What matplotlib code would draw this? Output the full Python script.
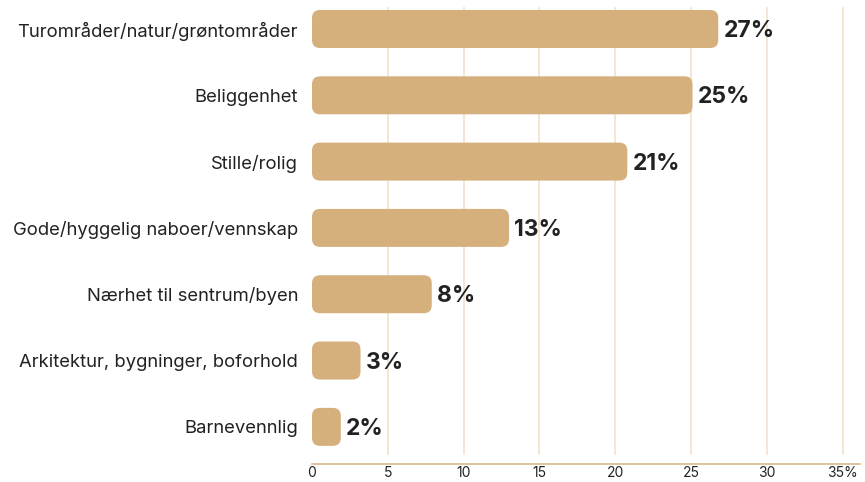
import matplotlib
matplotlib.use("Agg")
import matplotlib.pyplot as plt
from matplotlib.patches import FancyBboxPatch

categories = [
    "Turområder/natur/grøntområder",
    "Beliggenhet",
    "Stille/rolig",
    "Gode/hyggelig naboer/vennskap",
    "Nærhet til sentrum/byen",
    "Arkitektur, bygninger, boforhold",
    "Barnevennlig",
]
values = [26.8, 25.1, 20.8, 13.0, 7.9, 3.2, 1.9]
value_labels = ["27%", "25%", "21%", "13%", "8%", "3%", "2%"]
xticks = [0, 5, 10, 15, 20, 25, 30, 35]
xtick_labels = ["0", "5", "10", "15", "20", "25", "30", "35%"]

BAR = "#D5B07D"
GRID = "#F1E2CB"
AXIS = "#D8B98E"
TEXT = "#222222"

plt.rcParams['font.family'] = ['Inter', 'DejaVu Sans']

fig = plt.figure(figsize=(8.65, 4.82), dpi=100)
bottom_px = 18
ax = fig.add_axes([312/865, bottom_px/482, (860-312)/865, (482-bottom_px)/482])

n = len(categories)
ys = list(range(n))
xmax = (860 - 312) / 15.16
ax.set_xlim(0, xmax)
ax.set_ylim(6.56, -0.437)

bars = ax.barh(ys, values, height=0.573, color="none", edgecolor="none")

# gridlines
for t in xticks[1:]:
    ax.axvline(t, ymin=0.022, ymax=0.983, color=GRID, lw=1.2, zorder=0)

# rounded bars
fig.canvas.draw()
px_x = ax.transData.transform((1, 0))[0] - ax.transData.transform((0, 0))[0]
px_y = abs(ax.transData.transform((0, 1))[1] - ax.transData.transform((0, 0))[1])
r_px = 8
for b in bars:
    x0, y0, w, h = b.get_x(), b.get_y(), b.get_width(), b.get_height()
    r = min(r_px / px_x, w / 2 * 0.999)
    p = FancyBboxPatch((x0, y0), w, h,
                       boxstyle=f"round,pad=0,rounding_size={r}",
                       mutation_aspect=px_x / px_y,
                       facecolor=BAR, edgecolor="none", zorder=2)
    ax.add_patch(p)

for y, v, lab in zip(ys, values, value_labels):
    ax.text(v + 5 / px_x, y + 0.03, lab, va="center", ha="left",
            fontsize=16.5, fontweight="bold", color=TEXT, zorder=3)

ax.set_yticks(ys)
ax.set_yticklabels(categories, fontsize=13.3, color=TEXT)
ax.tick_params(axis="y", length=0, pad=10)
ax.set_xticks(xticks)
ax.set_xticklabels(xtick_labels, fontsize=10, color=TEXT)
ax.tick_params(axis="x", length=0, pad=1.5)

for s in ["top", "right", "left"]:
    ax.spines[s].set_visible(False)
ax.spines["bottom"].set_color(AXIS)
ax.spines["bottom"].set_linewidth(1.2)

fig.savefig("out.png", dpi=100)
